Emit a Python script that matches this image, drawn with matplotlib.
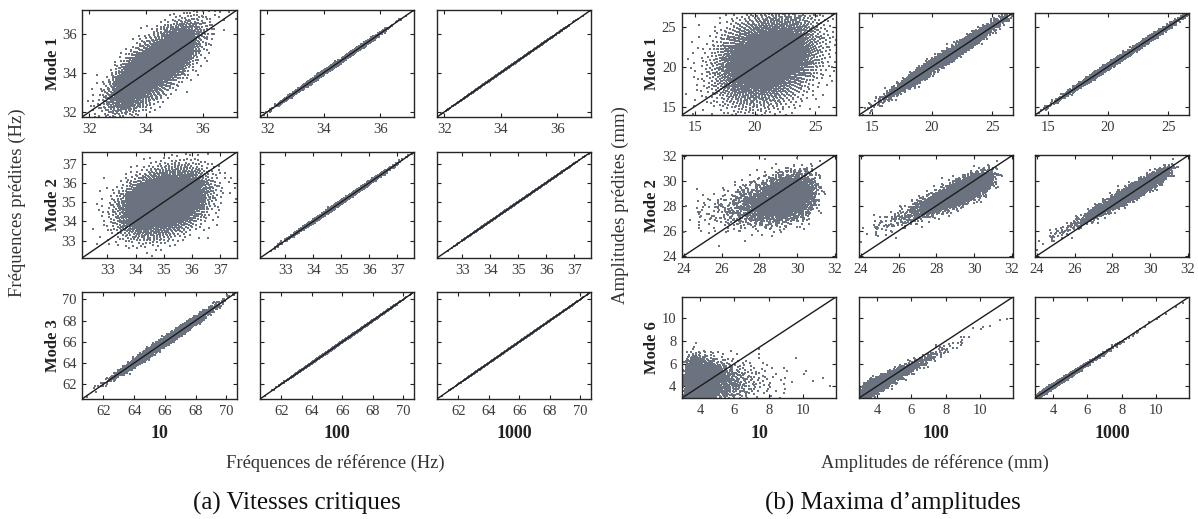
import numpy as np
import matplotlib
matplotlib.use("Agg")
import matplotlib.pyplot as plt

plt.rcParams["font.family"] = ["Liberation Serif", "DejaVu Serif"]

# ---------------------------------------------------------------- labels
size_labels = ["10", "100", "1000"]
mode_labels_a = ["Mode 1", "Mode 2", "Mode 3"]
mode_labels_b = ["Mode 1", "Mode 2", "Mode 6"]

# ---------------------------------------------------------------- axes ranges / ticks (same on x and y)
axis_range_a = [(31.75, 37.2), (32.1, 37.6), (60.6, 70.7)]
axis_ticks_a = [[32, 34, 36], [33, 34, 35, 36, 37], [62, 64, 66, 68, 70]]
axis_range_b = [(13.95, 26.7), (23.9, 32.05), (2.95, 11.9)]
axis_ticks_b = [[15, 20, 25], [24, 26, 28, 30, 32], [4, 6, 8, 10]]

# ---------------------------------------------------------------- reference samples (per mode)
ref_center_a = [34.3, 35.0, 66.0]
ref_spread_a = [0.75, 0.75, 1.4]
ref_skew_a = [0.0, 0.0, 0.0]
ref_jitter_a = [0.0, 0.0, 0.0]

ref_center_b = [21.0, 29.3, 3.9]
ref_spread_b = [2.1, 0.95, 0.62]
ref_skew_b = [0.0, -0.4, 0.7]
ref_jitter_b = [0.0, 0.3, 0.08]

# ---------------------------------------------------------------- predictions (rows: modes, cols: training sizes)
pred_slope_a = [[1.0, 1.0, 1.0], [0.35, 1.0, 1.0], [1.0, 1.0, 1.0]]
pred_shift_a = [[0.0, 0.0, 0.0], [0.0, 0.0, 0.0], [0.0, 0.0, 0.0]]
pred_noise_a = [[0.72, 0.05, 0.008], [0.8, 0.045, 0.008], [0.2, 0.03, 0.008]]

pred_slope_b = [[0.35, 1.0, 1.0], [0.3, 0.65, 0.85], [0.05, 0.8, 0.98]]
pred_shift_b = [[0.0, 0.0, 0.0], [-0.7, -0.2, 0.0], [0.3, 0.1, 0.0]]
pred_noise_b = [[2.8, 0.4, 0.18], [0.85, 0.45, 0.28], [1.0, 0.28, 0.09]]

N_SAMPLES = 4000
POINT_COLOR = "#6b7380"
LINE_COLOR = "#1c1c1c"
TICK_COLOR = "#3a3a3a"


def box_muller(u1, u2):
    r = np.sqrt(-2.0 * np.log(np.clip(u1, 1e-9, 1.0)))
    return r * np.cos(2 * np.pi * u2), r * np.sin(2 * np.pi * u2)


def normal_triple(n, start):
    """Deterministic low-discrepancy draws turned into three normal variates."""
    g = 1.32471795724474602596  # plastic number, R2 sequence
    k = np.arange(start, start + n, dtype=float)
    z1, z2 = box_muller((0.5 + k / g) % 1.0, (0.5 + k / g ** 2) % 1.0)
    z3, _ = box_muller((0.5 + k * np.sqrt(2.0)) % 1.0,
                       (0.5 + k * np.sqrt(3.0)) % 1.0)
    return z1, z2, z3


def reference_values(z, center, spread, skew):
    if skew == 0:
        return center + spread * z
    return center + spread * (np.exp(skew * z) - 1.0) / skew


W, H = 1198, 519
fig = plt.figure(figsize=(W / 100, H / 100), dpi=100)


def px_axes(x0, y0, x1, y1):
    return fig.add_axes([x0 / W, 1 - y1 / H, (x1 - x0) / W, (y1 - y0) / H])


cols_a = [(82, 237), (260, 414), (437, 591)]
rows_a = [(10, 117), (152, 258), (292, 399)]
cols_b = [(682, 836), (859, 1013), (1035, 1189)]
rows_b = [(13, 115), (155, 257), (297, 398)]


def draw_group(cols, rows, ranges, ticks, centers, spreads, skews, jitters,
               slopes, shifts, noises, seed_base):
    for i, (y0, y1) in enumerate(rows):
        z1, z2, z3 = normal_triple(N_SAMPLES, seed_base + 7919 * i)
        x = reference_values(z1, centers[i], spreads[i], skews[i]) + jitters[i] * z3
        for j, (x0, x1) in enumerate(cols):
            ax = px_axes(x0, y0, x1, y1)
            y = (centers[i] + shifts[i][j] + slopes[i][j] * (x - centers[i])
                 + noises[i][j] * z2)
            ax.scatter(x, y, s=0.7, marker="s", linewidths=0,
                       color=POINT_COLOR, zorder=2)
            lo, hi = ranges[i]
            ax.plot([lo, hi], [lo, hi], color=LINE_COLOR, lw=1.0, zorder=3)
            ax.set_xlim(lo, hi)
            ax.set_ylim(lo, hi)
            ax.set_xticks(ticks[i])
            ax.set_yticks(ticks[i])
            ax.tick_params(direction="in", top=True, right=True, length=3.2,
                           width=0.8, colors="#222222", labelcolor=TICK_COLOR,
                           labelsize=10.5, pad=4)
            if j > 0:
                ax.set_yticklabels([])
            for sp in ax.spines.values():
                sp.set_linewidth(1.0)
                sp.set_color("#262626")


draw_group(cols_a, rows_a, axis_range_a, axis_ticks_a, ref_center_a,
           ref_spread_a, ref_skew_a, ref_jitter_a,
           pred_slope_a, pred_shift_a, pred_noise_a, 11)
draw_group(cols_b, rows_b, axis_range_b, axis_ticks_b, ref_center_b,
           ref_spread_b, ref_skew_b, ref_jitter_b,
           pred_slope_b, pred_shift_b, pred_noise_b, 503)


def fig_text(x, y, s, **kw):
    fig.text(x / W, 1 - y / H, s, ha="center", va="center", **kw)


# mode names on the left of each row
for (y0, y1), name in zip(rows_a, mode_labels_a):
    fig_text(53, (y0 + y1) / 2, name, rotation=90, fontsize=12,
             fontweight="bold", color="#222222")
for (y0, y1), name in zip(rows_b, mode_labels_b):
    fig_text(652, (y0 + y1) / 2, name, rotation=90, fontsize=12,
             fontweight="bold", color="#222222")

# training-set sizes under each column
for (x0, x1), s in zip(cols_a, size_labels):
    fig_text((x0 + x1) / 2, 433, s, fontsize=13, fontweight="bold",
             color="#222222")
for (x0, x1), s in zip(cols_b, size_labels):
    fig_text((x0 + x1) / 2, 433, s, fontsize=13, fontweight="bold",
             color="#222222")

# axis titles
fig_text(17, 203, "Fréquences prédites (Hz)", rotation=90, fontsize=13.5,
         color="#333333")
fig_text(620, 205, "Amplitudes prédites (mm)", rotation=90, fontsize=13.5,
         color="#333333")
fig_text(335, 463, "Fréquences de référence (Hz)", fontsize=13.3,
         color="#333333")
fig_text(935, 463, "Amplitudes de référence (mm)", fontsize=13.3,
         color="#333333")

# sub-captions
fig_text(297, 503, "(a) Vitesses critiques", fontsize=18, color="#111111")
fig_text(893, 503, "(b) Maxima d\u2019amplitudes", fontsize=18,
         color="#111111")

fig.savefig("out.png", dpi=100)
